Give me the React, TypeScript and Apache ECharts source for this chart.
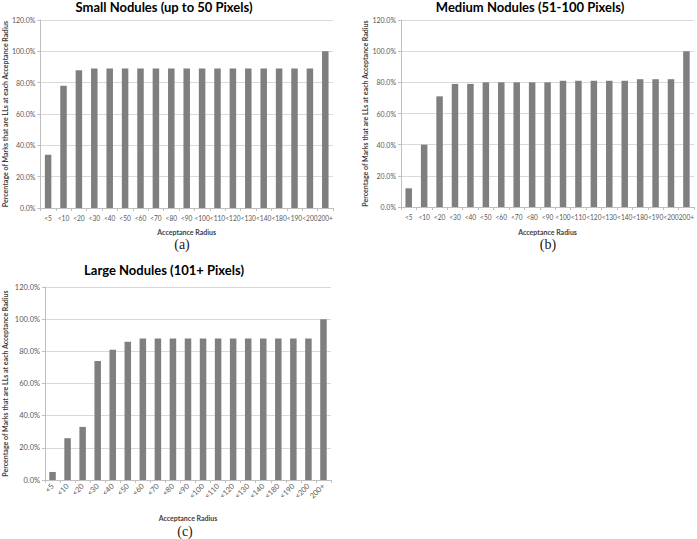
import React, { useEffect, useRef } from "react";
import * as echarts from "echarts";

const categories = ["<5", "<10", "<20", "<30", "<40", "<50", "<60", "<70", "<80", "<90", "<100", "<110", "<120", "<130", "<140", "<180", "<190", "<200", "200+"];
const smallValues = [34, 78, 88, 89, 89, 89, 89, 89, 89, 89, 89, 89, 89, 89, 89, 89, 89, 89, 100];
const mediumValues = [12, 40, 71, 79, 79, 80, 80, 80, 80, 80, 81, 81, 81, 81, 81, 82, 82, 82, 100];
const largeValues = [5, 26, 33, 74, 81, 86, 88, 88, 88, 88, 88, 88, 88, 88, 88, 88, 88, 88, 100];
const titles = ["Small Nodules (up to 50 Pixels)", "Medium Nodules (51-100 Pixels)", "Large Nodules (101+ Pixels)"];
const panelLabels = ["(a)", "(b)", "(c)"];
const xName = "Acceptance Radius";
const yName = "Percentage of Marks that are LLs at each Acceptance Radius";

const FONT = "Lato, 'Open Sans', sans-serif";
const BAR = "#7f7f7f";

export default function App() {
  const ref = useRef<HTMLDivElement>(null);
  useEffect(() => {
    if (!ref.current) return;
    const chart = echarts.init(ref.current, null, { renderer: "svg" });
    const grids = [
      { left: 37, top: 20, width: 296, height: 188 },
      { left: 401, top: 20, width: 296, height: 187 },
      { left: 43, top: 287, width: 288, height: 193 },
    ];
    const data = [smallValues, mediumValues, largeValues];
    const xNameGaps = [20, 21, 34];
    const yNameGaps = [31, 31, 37];
    const option: any = {
      animation: false,
      grid: grids.map((g) => ({ ...g, containLabel: false })),
      xAxis: grids.map((_, i) => ({
        type: "category",
        gridIndex: i,
        data: categories,
        name: xName,
        nameLocation: "middle",
        nameGap: xNameGaps[i],
        nameTextStyle: { fontFamily: FONT, fontSize: 7, fontWeight: "bold", color: "#404040" },
        axisLine: { lineStyle: { color: "#bfbfbf", width: 1 } },
        axisTick: { show: true, length: 3, alignWithLabel: false, lineStyle: { color: "#bfbfbf" } },
        axisLabel: {
          interval: 0,
          fontFamily: FONT,
          fontSize: i === 2 ? 7.5 : 6.6,
          color: "#595959",
          margin: i === 2 ? 5 : 6,
          rotate: i === 2 ? 45 : 0,
        },
      })),
      yAxis: grids.map((_, i) => ({
        type: "value",
        gridIndex: i,
        min: 0,
        max: 120,
        interval: 20,
        name: yName,
        nameLocation: "middle",
        nameGap: yNameGaps[i],
        nameTextStyle: { fontFamily: FONT, fontSize: 7, fontWeight: "bold", color: "#404040" },
        axisLine: { show: true, lineStyle: { color: "#bfbfbf", width: 1 } },
        axisTick: { show: true, length: 3, lineStyle: { color: "#bfbfbf" } },
        axisLabel: {
          fontFamily: FONT,
          fontSize: i === 2 ? 7.5 : 7,
          color: "#595959",
          margin: 5,
          formatter: (v: number) => v.toFixed(1) + "%",
        },
        splitLine: { lineStyle: { color: "#d9d9d9", width: 1 } },
      })),
      series: data.map((d, i) => ({
        type: "bar",
        xAxisIndex: i,
        yAxisIndex: i,
        data: d,
        barWidth: 6.5,
        itemStyle: { color: BAR },
      })),
      graphic: [
        ...[
          { x: 164, y: 7 },
          { x: 530, y: 7 },
          { x: 164, y: 270 },
        ].map((p, i) => ({
          type: "text",
          x: p.x,
          y: p.y,
          style: {
            text: titles[i],
            fontFamily: FONT,
            fontSize: 13,
            fontWeight: "bold",
            fill: "#000",
            textAlign: "center",
            textVerticalAlign: "middle",
          },
        })),
        ...[
          { x: 182, y: 244 },
          { x: 548, y: 244 },
          { x: 185, y: 531 },
        ].map((p, i) => ({
          type: "text",
          x: p.x,
          y: p.y,
          style: {
            text: panelLabels[i],
            fontFamily: "'Liberation Serif', 'DejaVu Serif', serif",
            fontSize: 14,
            fill: "#222",
            textAlign: "center",
            textVerticalAlign: "middle",
          },
        })),
      ],
    };
    chart.setOption(option);
    return () => chart.dispose();
  }, []);
  return (
    <div
      ref={ref}
      style={{ position: "absolute", left: 0, top: 0, width: 697, height: 539, background: "#fff" }}
    />
  );
}
